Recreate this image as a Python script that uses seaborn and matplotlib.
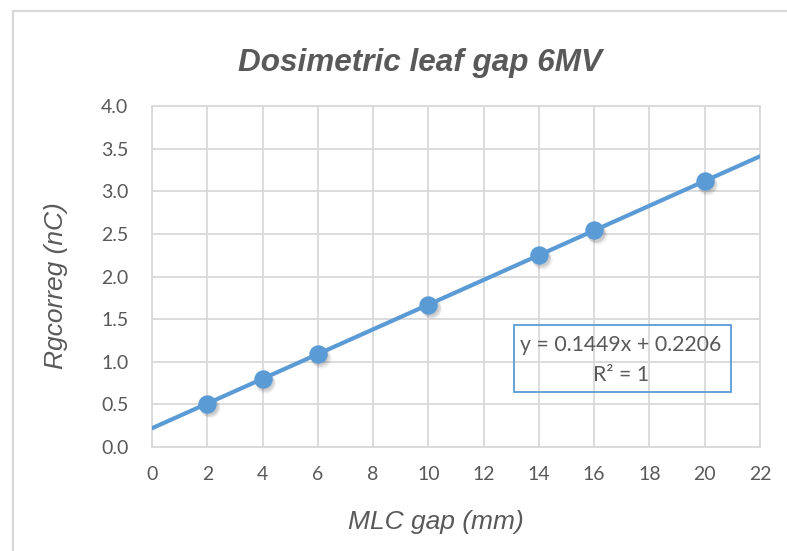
import numpy as np
import pandas as pd
import matplotlib
matplotlib.use("Agg")
import matplotlib.pyplot as plt
import seaborn as sns
from matplotlib.lines import Line2D
from matplotlib.patches import Rectangle

# Data
mlc_gap = [2, 4, 6, 10, 14, 16, 20]
charge = [0.51, 0.80, 1.09, 1.67, 2.25, 2.54, 3.12]
x_ticks = [0, 2, 4, 6, 8, 10, 12, 14, 16, 18, 20, 22]
y_ticks = [0.0, 0.5, 1.0, 1.5, 2.0, 2.5, 3.0, 3.5, 4.0]
title = "Dosimetric leaf gap 6MV"
xlabel = "MLC gap (mm)"
ylabel = "Rgcorreg (nC)"
eq_line1 = "y = 0.1449x + 0.2206"
eq_line2 = "R² = 1"

sns.set_theme(style="white")
plt.rcParams['font.family'] = ['Lato', 'DejaVu Sans']

blue = "#5B9BD5"
gray_txt = "#595959"
grid_c = "#D9D9D9"

df = pd.DataFrame({"x": mlc_gap, "y": charge})
slope, intercept = np.polyfit(mlc_gap, charge, 1)
xs = np.array([0, 22])
trend = pd.DataFrame({"x": xs, "y": slope * xs + intercept})

fig = plt.figure(figsize=(7.87, 5.51), dpi=100)
ax = fig.add_axes([152/787, 1-447/551, (760-152)/787, (447-106)/551])

# chart border (top and left visible)
fig.add_artist(Line2D([12.5/787, 1], [1-11/551, 1-11/551], transform=fig.transFigure,
                      color="#D9D9D9", linewidth=1.6))
fig.add_artist(Line2D([12.5/787, 12.5/787], [0, 1-11/551], transform=fig.transFigure,
                      color="#D9D9D9", linewidth=1.6))

# soft shadow of markers
for dx, dy, s, a in [(0.10, -0.045, 215, 0.06), (0.08, -0.035, 185, 0.08), (0.06, -0.025, 165, 0.08)]:
    ax.scatter(np.array(mlc_gap) + dx, np.array(charge) + dy, s=s, color="#000000",
               alpha=a, linewidths=0, zorder=3)
sns.lineplot(data=trend, x="x", y="y", ax=ax, color=blue, linewidth=3.0, zorder=4)
sns.scatterplot(data=df, x="x", y="y", ax=ax, s=175, color=blue, edgecolor=blue,
                linewidth=0, zorder=5)

ax.set_xlim(0, 22)
ax.set_ylim(0, 4)
ax.set_xticks(x_ticks)
ax.set_yticks(y_ticks)
ax.set_xticklabels([str(t) for t in x_ticks])
ax.set_yticklabels([f"{t:.1f}" for t in y_ticks])
ax.grid(True, color=grid_c, linewidth=1.3)
ax.set_axisbelow(True)
for s in ax.spines.values():
    s.set_color(grid_c)
    s.set_linewidth(1.3)
ax.tick_params(axis="both", colors=gray_txt, labelsize=14, length=0)
ax.tick_params(axis="y", pad=17)
ax.tick_params(axis="x", pad=14)

ax.set_xlabel(xlabel, fontsize=19, color=gray_txt, style="italic",
              family=["Liberation Sans", "DejaVu Sans"])
ax.xaxis.set_label_coords((436-152)/608, (447-510)/341)
ax.set_ylabel(ylabel, fontsize=19, color=gray_txt, style="italic",
              family=["Liberation Sans", "DejaVu Sans"])
ax.yaxis.set_label_coords((68-152)/608, (447-286)/341)

fig.text(420/787, 1-63/551, title, ha="center", va="center", fontsize=22.7,
         fontweight="bold", style="italic", color=gray_txt,
         family=["Liberation Sans", "DejaVu Sans"])

# equation box
ax.add_patch(Rectangle((13.1, 0.645), 20.95-13.1, 1.43-0.645, fill=False, edgecolor=blue,
                       linewidth=1.3, zorder=6))
ax.text(16.96, (447-345)/85.25, eq_line1, ha="center", va="center", fontsize=15.3,
        color=gray_txt, zorder=7)
ax.text(16.96, (447-375)/85.25, eq_line2, ha="center", va="center", fontsize=15.3,
        color=gray_txt, zorder=7)

fig.savefig("out.png", dpi=100)
